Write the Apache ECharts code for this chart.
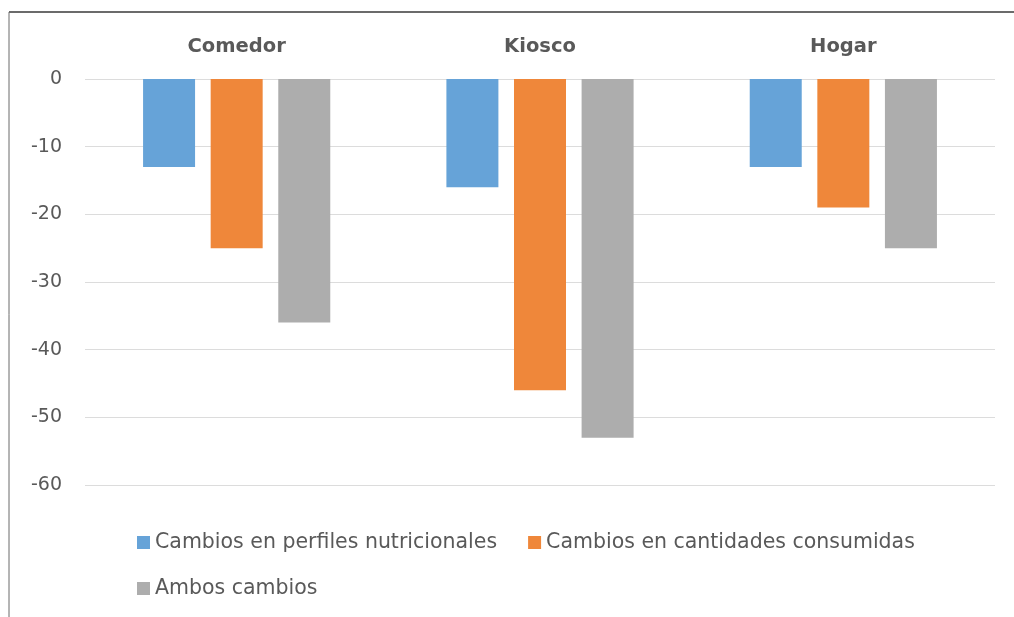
<!DOCTYPE html>
<html><head><meta charset="utf-8">
<script src="https://cdn.jsdelivr.net/npm/echarts@6/dist/echarts.min.js"></script>
<style>html,body{margin:0;padding:0;background:#fff}#c{width:1014px;height:617px}</style>
</head><body><div id="c"></div>
<script>
var categories = ['Comedor', 'Kiosco', 'Hogar'];
var seriesNames = ['Cambios en perfiles nutricionales', 'Cambios en cantidades consumidas', 'Ambos cambios'];
var perfiles = [-13, -16, -13];
var cantidades = [-25, -46, -19];
var ambos = [-36, -53, -25];
var yTicks = [0, -10, -20, -30, -40, -50, -60];
var colors = ['#66A3D8', '#EF873A', '#ADADAD'];

var chart = echarts.init(document.getElementById('c'));
var font = '"DejaVu Sans", "Open Sans", sans-serif';
var legendText = {color: '#595959', fontSize: 20.5, fontFamily: font};
chart.setOption({
  animation: false,
  color: colors,
  graphic: [
    {type: 'line', shape: {x1: 9, y1: 12, x2: 1014, y2: 12}, style: {stroke: '#6b6b6b', lineWidth: 2}},
    {type: 'line', shape: {x1: 9, y1: 12, x2: 9, y2: 617}, style: {stroke: '#6b6b6b', lineWidth: 1}}
  ],
  grid: {left: 85, right: 19, top: 79, bottom: 132, containLabel: false},
  legend: [
    {data: [seriesNames[0], seriesNames[1]], left: 132, top: 527, itemWidth: 13, itemHeight: 13, itemGap: 31, icon: 'rect', textStyle: legendText},
    {data: [seriesNames[2]], left: 132, top: 573, itemWidth: 13, itemHeight: 13, icon: 'rect', textStyle: legendText}
  ],
  xAxis: {
    type: 'category', data: categories, position: 'top',
    axisLine: {show: false}, axisTick: {show: false},
    axisLabel: {margin: 22, color: '#595959', fontSize: 19.5, fontWeight: 'bold', fontFamily: font}
  },
  yAxis: {
    type: 'value', min: -60, max: 0, interval: 10,
    axisLine: {show: false}, axisTick: {show: false},
    axisLabel: {margin: 23, color: '#595959', fontSize: 19, fontFamily: font,
      formatter: function (v) { return yTicks.indexOf(v) >= 0 ? String(v) : ''; }},
    splitLine: {lineStyle: {color: '#DCDCDC', width: 1}}
  },
  series: [
    {name: seriesNames[0], type: 'bar', data: perfiles, barWidth: 52, barGap: '30%'},
    {name: seriesNames[1], type: 'bar', data: cantidades, barWidth: 52, barGap: '30%'},
    {name: seriesNames[2], type: 'bar', data: ambos, barWidth: 52, barGap: '30%'}
  ]
});
</script></body></html>
